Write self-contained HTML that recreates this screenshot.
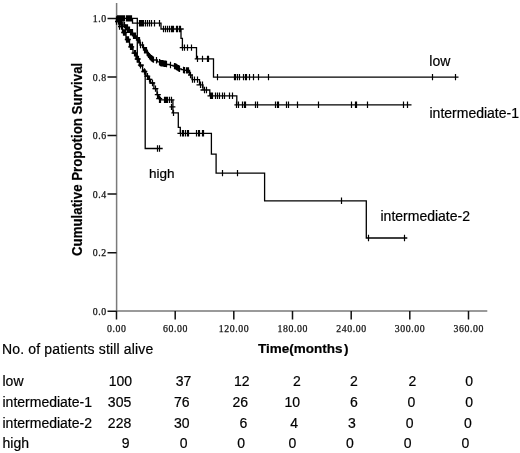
<!DOCTYPE html>
<html><head><meta charset="utf-8"><style>
html,body{margin:0;padding:0;background:#fff;width:520px;height:453px;overflow:hidden;position:relative}
body{filter:grayscale(1)}
.t{position:absolute;font-family:"Liberation Sans",sans-serif;white-space:nowrap;color:#000;line-height:1;-webkit-text-stroke:0.2px #000}
</style></head><body>
<svg width="520" height="453" viewBox="0 0 520 453" style="position:absolute;left:0;top:0"><path d="M116.6,3 V311 M116,311.1 H487.3" stroke="#7a7a7a" stroke-width="1.5" fill="none"/><path d="M116.5,311 V319.5 M175.2,311 V319.5 M233.8,311 V319.5 M292.5,311 V319.5 M351.2,311 V319.5 M409.8,311 V319.5 M468.5,311 V319.5 M107.5,311.2 H116.5 M107.5,252.7 H116.5 M107.5,194.1 H116.5 M107.5,135.6 H116.5 M107.5,77.0 H116.5 M107.5,18.5 H116.5" stroke="#111" stroke-width="1.5" fill="none"/><path d="M116.5,18.4 H132.5 V23.2 H161 V29 H181 V38.3 H182.4 V47.6 H196.5 V58.9 H213.5 V77.1 H458.5 M179.7,47.6 H182.4 M194.7,58.9 H197 M181,29 H183.7 M116.5,18.4 H137.3 V62 H139.5 V66 H142.6 V70 H145.2 V148.5 H162.7 M116.5,18.5 V19.5 H119.5 V20.5 V22.2 H123.0 V24.0 V25.1 H125.2 V27.4 H127.5 V28.5 V29.8 H130.0 V32.2 H132.5 V33.5 V35.8 H136.5 V38.0 V40.2 H140.0 V42.5 V45.0 H143.5 V47.5 V50.2 H147.2 V53.0 V55.0 H150.0 V57.0 V58.2 H153.2 V59.5 V60.0 H157.3 V60.5 V61.8 H160.4 V63.0 V63.2 H163.4 V63.8 H166.5 V64.0 V64.5 H170.4 V65.0 V65.4 H173.1 V66.1 H175.8 V66.5 V67.5 H178.8 V68.5 V68.9 H181.2 V69.6 H183.5 V70.0 V70.2 H185.0 V70.4 H189.6 V75 H192 V79.6 H199.5 V84.8 H203 V90 H209.8 V95.8 H236.8 V104.8 H411.5 M234.4,104.8 H236.8 M188,75 H193 M196.5,84.8 H201 M200.5,90 H205 M207.5,95.8 H210 M116.5,19.0 V21.5 H119.5 V24.0 V26.5 H122.5 V29.0 V32.5 H126.0 V36.0 V39.5 H129.5 V43.0 V46.8 H133.0 V50.5 V53.2 H136.0 V56.0 V59.0 H139.3 V62.0 V65.2 H142.6 V68.5 V71.5 H146.0 V74.5 V76.1 H148.3 V79.4 H150.6 V81.0 V83.0 H153.9 V85.0 V88.6 H157.0 V92.2 V94.7 H158.6 V97.2 V98.6 H159.9 V99.9 H172.9 V112.9 H178.3 V127.3 H180.3 V133.3 H211.4 V154.2 H216.1 V173.1 H264.6 V200.8 H366.3 V238 H407.3 M177.4,133.3 H180.2 M172.9,99.9 H174.4 M169.4,106.9 H175.4 M171.4,112.9 H173" stroke="#000" stroke-width="1.3" fill="none" stroke-linejoin="miter"/><path d="M117.5,15.2V21.6 M118.5,15.2V21.6 M119.5,15.2V21.6 M120.5,15.2V21.6 M121.5,15.2V21.6 M122.5,15.2V21.6 M123.5,15.2V21.6 M124.5,15.2V21.6 M126.5,15.2V21.6 M127.5,15.2V21.6 M128.5,15.2V21.6 M129.5,15.2V21.6 M130.5,15.2V21.6 M131.5,15.2V21.6 M139.5,20.0V26.4 M140.5,20.0V26.4 M141.5,20.0V26.4 M142.5,20.0V26.4 M143.5,20.0V26.4 M145.5,20.0V26.4 M147.5,20.0V26.4 M149.5,20.0V26.4 M151.5,20.0V26.4 M154.5,20.0V26.4 M159.5,20.0V26.4 M163.5,25.8V32.2 M165.5,25.8V32.2 M167.5,25.8V32.2 M169.5,25.8V32.2 M171.5,25.8V32.2 M172.5,25.8V32.2 M173.5,25.8V32.2 M176.5,25.8V32.2 M177.5,25.8V32.2 M179.5,25.8V32.2 M180.5,25.8V32.2 M182.5,44.4V50.8 M184.5,44.4V50.8 M187.5,44.4V50.8 M191.5,44.4V50.8 M197.5,55.7V62.1 M202.5,55.7V62.1 M207.5,55.7V62.1 M208.5,55.7V62.1 M217.5,73.9V80.3 M234.5,73.9V80.3 M235.5,73.9V80.3 M237.5,73.9V80.3 M239.5,73.9V80.3 M243.5,73.9V80.3 M245.5,73.9V80.3 M246.5,73.9V80.3 M249.5,73.9V80.3 M253.5,73.9V80.3 M258.5,73.9V80.3 M268.5,73.9V80.3 M432.5,73.9V80.3 M455.5,73.9V80.3 M157.5,145.3V151.7 M159.5,145.3V151.7 M116.5,16.3V22.7 M118.5,16.3V22.7 M119.5,16.3V22.7 M120.5,19.1V25.4 M121.5,19.1V25.4 M124.5,21.9V28.3 M124.5,21.9V28.3 M125.5,24.2V30.6 M126.5,24.2V30.6 M127.5,24.2V30.6 M127.5,26.6V33.0 M128.5,26.6V33.0 M129.5,26.6V33.0 M130.5,29.1V35.5 M131.5,29.1V35.5 M132.5,29.1V35.5 M133.5,32.5V39.0 M134.5,32.5V39.0 M135.5,32.5V39.0 M138.5,37.0V43.5 M139.5,37.0V43.5 M140.5,41.8V48.2 M142.5,41.8V48.2 M144.5,47.0V53.5 M145.5,47.0V53.5 M146.5,47.0V53.5 M147.5,50.2V56.6 M148.5,51.7V58.1 M149.5,53.1V59.5 M150.5,54.2V60.6 M151.5,55.0V61.4 M152.5,55.8V62.2 M153.5,56.4V62.8 M156.5,57.1V63.5 M159.5,59.1V65.5 M160.5,59.8V66.2 M161.5,60.0V66.4 M162.5,60.1V66.5 M163.5,60.3V66.7 M164.5,60.5V66.9 M165.5,60.6V67.0 M166.5,60.8V67.2 M170.5,61.8V68.2 M174.5,62.9V69.3 M175.5,63.2V69.6 M176.5,63.8V70.2 M177.5,64.4V70.8 M178.5,65.1V71.5 M179.5,65.5V71.9 M183.5,66.8V73.2 M184.5,67.1V73.5 M186.5,67.2V73.6 M187.5,67.2V73.6 M188.5,67.2V73.6 M190.5,71.8V78.2 M192.5,76.4V82.8 M194.5,76.4V82.8 M197.5,76.4V82.8 M200.5,81.6V88.0 M202.5,81.6V88.0 M204.5,86.8V93.2 M206.5,86.8V93.2 M210.5,92.6V99.0 M211.5,92.6V99.0 M212.5,92.6V99.0 M215.5,92.6V99.0 M217.5,92.6V99.0 M219.5,92.6V99.0 M222.5,92.6V99.0 M224.5,92.6V99.0 M229.5,92.6V99.0 M232.5,92.6V99.0 M236.5,101.6V108.0 M238.5,101.6V108.0 M242.5,101.6V108.0 M244.5,101.6V108.0 M245.5,101.6V108.0 M255.5,101.6V108.0 M257.5,101.6V108.0 M275.5,101.6V108.0 M277.5,101.6V108.0 M278.5,101.6V108.0 M286.5,101.6V108.0 M288.5,101.6V108.0 M297.5,101.6V108.0 M318.5,101.6V108.0 M351.5,101.6V108.0 M355.5,101.6V108.0 M356.5,101.6V108.0 M367.5,101.6V108.0 M403.5,101.6V108.0 M407.5,101.6V108.0 M118.5,18.3V24.7 M121.5,23.3V29.7 M124.5,29.3V35.7 M127.5,36.3V42.7 M131.5,43.5V50.0 M134.5,50.0V56.5 M137.5,55.8V62.2 M140.5,62.0V68.5 M144.5,68.3V74.7 M147.5,72.9V79.3 M149.5,76.2V82.6 M152.5,79.8V86.2 M155.5,85.4V91.8 M157.5,91.5V97.9 M159.5,95.4V101.8 M119.5,18.3V24.7 M122.5,23.3V29.7 M125.5,29.3V35.7 M128.5,36.3V42.7 M132.5,43.5V50.0 M135.5,50.0V56.5 M138.5,55.8V62.2 M116.5,18.3V24.7 M119.5,23.3V29.7 M123.5,29.3V35.7 M126.5,36.3V42.7 M130.5,43.5V50.0 M159.5,96.7V103.1 M160.5,96.7V103.1 M164.5,96.7V103.1 M165.5,96.7V103.1 M166.5,96.7V103.1 M167.5,96.7V103.1 M169.5,96.7V103.1 M171.5,96.7V103.1 M171.5,103.7V110.1 M173.5,109.7V116.1 M180.5,130.0V136.4 M182.5,130.0V136.4 M183.5,130.0V136.4 M185.5,130.0V136.4 M187.5,130.0V136.4 M188.5,130.0V136.4 M196.5,130.0V136.4 M198.5,130.0V136.4 M199.5,130.0V136.4 M202.5,130.0V136.4 M203.5,130.0V136.4 M222.5,169.9V176.3 M237.5,169.9V176.3 M341.5,197.6V204.0 M368.5,234.8V241.2 M404.5,234.8V241.2" stroke="#000" stroke-width="1.2" fill="none"/><path d="M115.0,21.5H121.0 M118.0,26.5H124.0 M121.2,32.5H127.2 M124.8,39.5H130.8 M128.2,46.8H134.2 M131.5,53.2H137.5 M134.7,59.0H140.7 M137.9,65.2H143.9 M141.3,71.5H147.3 M144.2,76.1H150.2 M146.4,79.4H152.4 M149.2,83.0H155.2 M152.4,88.6H158.4 M154.8,94.7H160.8 M156.2,98.6H162.2" stroke="#000" stroke-width="1.3" fill="none"/><text x="116.8" y="331.6" text-anchor="middle" font-family="Liberation Serif" font-size="9.8" letter-spacing="0.6" fill="#111" stroke="#111" stroke-width="0.25">0.00</text><text x="175.5" y="331.6" text-anchor="middle" font-family="Liberation Serif" font-size="9.8" letter-spacing="0.6" fill="#111" stroke="#111" stroke-width="0.25">60.00</text><text x="234.1" y="331.6" text-anchor="middle" font-family="Liberation Serif" font-size="9.8" letter-spacing="0.6" fill="#111" stroke="#111" stroke-width="0.25">120.00</text><text x="292.8" y="331.6" text-anchor="middle" font-family="Liberation Serif" font-size="9.8" letter-spacing="0.6" fill="#111" stroke="#111" stroke-width="0.25">180.00</text><text x="351.5" y="331.6" text-anchor="middle" font-family="Liberation Serif" font-size="9.8" letter-spacing="0.6" fill="#111" stroke="#111" stroke-width="0.25">240.00</text><text x="410.1" y="331.6" text-anchor="middle" font-family="Liberation Serif" font-size="9.8" letter-spacing="0.6" fill="#111" stroke="#111" stroke-width="0.25">300.00</text><text x="468.8" y="331.6" text-anchor="middle" font-family="Liberation Serif" font-size="9.8" letter-spacing="0.6" fill="#111" stroke="#111" stroke-width="0.25">360.00</text><text x="106.7" y="314.8" text-anchor="end" font-family="Liberation Serif" font-size="9.8" letter-spacing="0.6" fill="#111" stroke="#111" stroke-width="0.25">0.0</text><text x="106.7" y="256.3" text-anchor="end" font-family="Liberation Serif" font-size="9.8" letter-spacing="0.6" fill="#111" stroke="#111" stroke-width="0.25">0.2</text><text x="106.7" y="197.7" text-anchor="end" font-family="Liberation Serif" font-size="9.8" letter-spacing="0.6" fill="#111" stroke="#111" stroke-width="0.25">0.4</text><text x="106.7" y="139.2" text-anchor="end" font-family="Liberation Serif" font-size="9.8" letter-spacing="0.6" fill="#111" stroke="#111" stroke-width="0.25">0.6</text><text x="106.7" y="80.6" text-anchor="end" font-family="Liberation Serif" font-size="9.8" letter-spacing="0.6" fill="#111" stroke="#111" stroke-width="0.25">0.8</text><text x="106.7" y="22.1" text-anchor="end" font-family="Liberation Serif" font-size="9.8" letter-spacing="0.6" fill="#111" stroke="#111" stroke-width="0.25">1.0</text></svg>
<div class="t" style="left:429.3px;top:53.9px;font-size:14px">low</div>
<div class="t" style="left:429.5px;top:105.5px;font-size:14px">intermediate-1</div>
<div class="t" style="left:380.5px;top:208.6px;font-size:14px">intermediate-2</div>
<div class="t" style="left:149px;top:167px;font-size:13.5px">high</div>
<div class="t" style="left:70.3px;top:255.5px;font-size:14px;font-weight:bold;transform-origin:0 0;transform:rotate(-90deg) scaleX(0.948)">Cumulative Propotion Survival</div>
<div class="t" style="left:258px;top:341.8px;font-size:13.5px;font-weight:bold">Time(months<span style="margin-left:1.5px">)</span></div>
<div class="t" style="left:2px;top:342.4px;font-size:14px;letter-spacing:0.16px">No. of patients still alive</div>
<div class="t" style="left:2.5px;top:373.5px;font-size:14px">low</div>
<div class="t" style="right:387.9px;top:373.5px;font-size:14px">100</div>
<div class="t" style="right:328.8px;top:373.5px;font-size:14px">37</div>
<div class="t" style="right:270.4px;top:373.5px;font-size:14px">12</div>
<div class="t" style="right:219.2px;top:373.5px;font-size:14px">2</div>
<div class="t" style="right:162.3px;top:373.5px;font-size:14px">2</div>
<div class="t" style="right:103.8px;top:373.5px;font-size:14px">2</div>
<div class="t" style="right:46.9px;top:373.5px;font-size:14px">0</div>
<div class="t" style="left:2.5px;top:394.5px;font-size:14px">intermediate-1</div>
<div class="t" style="right:388.8px;top:394.5px;font-size:14px">305</div>
<div class="t" style="right:330.4px;top:394.5px;font-size:14px">76</div>
<div class="t" style="right:271.9px;top:394.5px;font-size:14px">26</div>
<div class="t" style="right:220.0px;top:394.5px;font-size:14px">10</div>
<div class="t" style="right:162.3px;top:394.5px;font-size:14px">6</div>
<div class="t" style="right:104.6px;top:394.5px;font-size:14px">0</div>
<div class="t" style="right:46.9px;top:394.5px;font-size:14px">0</div>
<div class="t" style="left:2.5px;top:415.8px;font-size:14px">intermediate-2</div>
<div class="t" style="right:388.8px;top:415.8px;font-size:14px">228</div>
<div class="t" style="right:330.4px;top:415.8px;font-size:14px">30</div>
<div class="t" style="right:272.8px;top:415.8px;font-size:14px">6</div>
<div class="t" style="right:221.9px;top:415.8px;font-size:14px">4</div>
<div class="t" style="right:164.2px;top:415.8px;font-size:14px">3</div>
<div class="t" style="right:106.5px;top:415.8px;font-size:14px">0</div>
<div class="t" style="right:48.2px;top:415.8px;font-size:14px">0</div>
<div class="t" style="left:2.5px;top:436.3px;font-size:14px">high</div>
<div class="t" style="right:390.4px;top:436.3px;font-size:14px">9</div>
<div class="t" style="right:332.5px;top:436.3px;font-size:14px">0</div>
<div class="t" style="right:275.0px;top:436.3px;font-size:14px">0</div>
<div class="t" style="right:223.8px;top:436.3px;font-size:14px">0</div>
<div class="t" style="right:166.1px;top:436.3px;font-size:14px">0</div>
<div class="t" style="right:108.4px;top:436.3px;font-size:14px">0</div>
<div class="t" style="right:50.7px;top:436.3px;font-size:14px">0</div>
</body></html>
